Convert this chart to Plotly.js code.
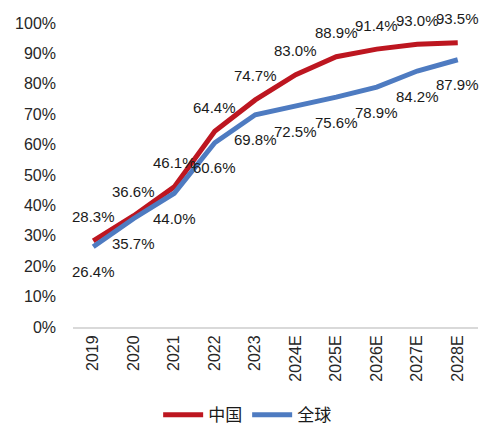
<!DOCTYPE html>
<html>
<head>
<meta charset="utf-8">
<script src="https://cdn.plot.ly/plotly-3.0.1.min.js"></script>
<style>
  html, body { margin: 0; padding: 0; background: #fff; }
  #plotdiv { width: 502px; height: 448px; }
</style>
</head>
<body>
<div id="plotdiv"></div>
<script>
var years = ['2019', '2020', '2021', '2022', '2023', '2024E', '2025E', '2026E', '2027E', '2028E'];
var china = [28.3, 36.6, 46.1, 64.4, 74.7, 83.0, 88.9, 91.4, 93.0, 93.5];
var world = [26.4, 35.7, 44.0, 60.6, 69.8, 72.5, 75.6, 78.9, 84.2, 87.9];
var yTicks = [0, 10, 20, 30, 40, 50, 60, 70, 80, 90, 100];

var labelFont = {family: 'Liberation Sans Narrow, Liberation Sans, Arial, sans-serif', size: 15, color: '#1a1a1a'};
var axisFont = {family: 'Liberation Sans, Arial, sans-serif', size: 16, color: '#262626'};

function pct(v) {
    return v.toFixed(1) + '%';
}

var data = [
    {
        x: years, y: china, name: '中国',
        mode: 'lines', type: 'scatter',
        line: {color: '#BD1620', width: 5},
        hoverinfo: 'skip'
    },
    {
        x: years, y: world, name: '全球',
        mode: 'lines', type: 'scatter',
        line: {color: '#4E7BC1', width: 5},
        hoverinfo: 'skip'
    }
];

// data labels: china above, world below
// (x as category index, since '2019' etc. would be read as numbers)
var annotations = [];
for (var i = 0; i < years.length; ++i) {
    annotations.push({
        x: i, y: china[i], text: pct(china[i]),
        showarrow: false, yshift: 24, font: labelFont
    });
    annotations.push({
        x: i, y: world[i], text: pct(world[i]),
        showarrow: false, yshift: -25, font: labelFont
    });
}

var layout = {
    width: 502,
    height: 448,
    margin: {l: 73, r: 24, t: 23, b: 121},
    paper_bgcolor: '#ffffff',
    plot_bgcolor: '#ffffff',
    showlegend: true,
    legend: {
        orientation: 'h',
        x: 0.43, xanchor: 'center',
        y: -0.29, yanchor: 'middle',
        font: {family: 'Noto Sans CJK SC, sans-serif', size: 17, color: '#1a1a1a'},
        itemwidth: 40,
        traceorder: 'normal'
    },
    xaxis: {
        type: 'category',
        range: [-0.5, 9.5],
        showgrid: false,
        zeroline: false,
        showline: true,
        linecolor: '#D9D9D9',
        linewidth: 2,
        tickangle: -90,
        tickfont: axisFont,
        ticks: ''
    },
    yaxis: {
        range: [0, 100],
        tickvals: yTicks,
        ticktext: yTicks.map(function (v) { return v + '%'; }),
        showgrid: false,
        zeroline: false,
        showline: false,
        tickfont: axisFont,
        ticks: '',
        ticklabelstandoff: 16
    },
    annotations: annotations
};

Plotly.newPlot('plotdiv', data, layout, {staticPlot: true, displayModeBar: false});
</script>
</body>
</html>
